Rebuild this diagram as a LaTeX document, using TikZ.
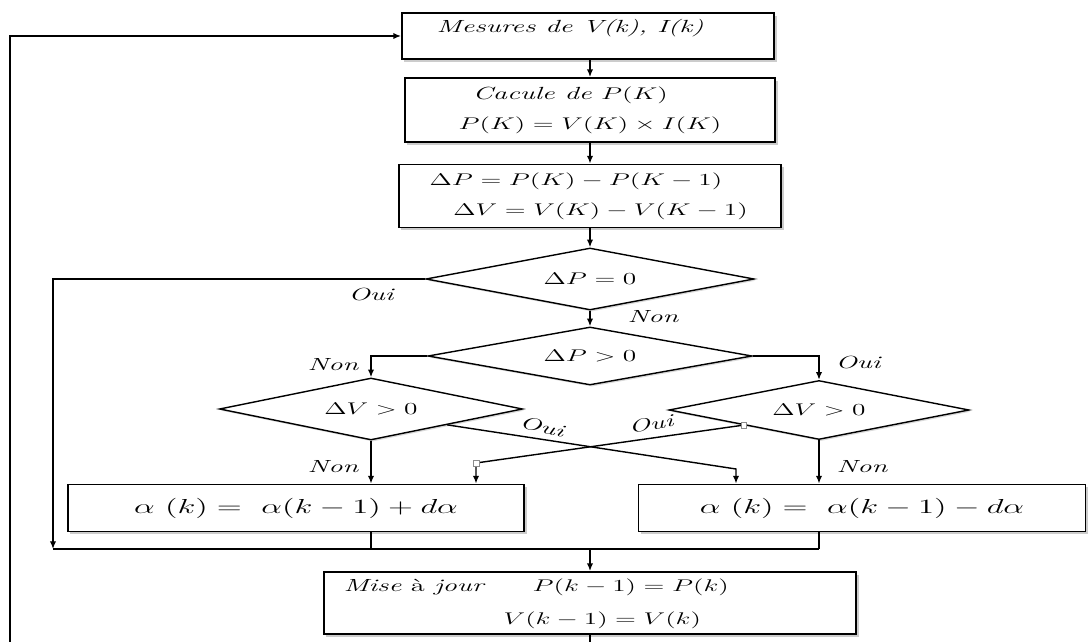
\documentclass[tikz,border=0pt]{standalone}
\usepackage{graphicx}
\usetikzlibrary{shapes.geometric,shadows,arrows.meta}
\newcommand{\wtxt}[1]{\scalebox{1.62}[1]{#1}}
\tikzset{
  box/.style={draw, rectangle, line width=1.3pt, fill=white, inner sep=0pt,
    drop shadow={shadow xshift=1.8pt, shadow yshift=-1.8pt, opacity=0.4},
    font=\fontsize{12.5}{14.5}\selectfont},
  bigbox/.style={box, font=\fontsize{15}{17}\selectfont},
  test/.style={draw, diamond, aspect=5, line width=1pt, fill=white, inner sep=0pt,
    drop shadow={shadow xshift=1.2pt, shadow yshift=-1.2pt, opacity=0.3},
    font=\fontsize{12.5}{14.5}\selectfont},
  txt/.style={inner sep=0pt, anchor=base west, font=\fontsize{12.5}{14.5}\selectfont},
  lbl/.style={inner sep=0pt, font=\fontsize{12.5}{14.5}\selectfont\itshape},
  handle/.style={draw=black!45, fill=white, rectangle, minimum size=4pt, inner sep=0pt, line width=0.4pt}
}
\begin{document}
\begin{tikzpicture}[x=0.025cm, y=-0.025cm, >={Latex[length=5.5pt,width=4.5pt]}, line width=1pt]
\useasboundingbox (0,0) rectangle (1088,642);
%main column
\node[box, minimum width=9.3cm, minimum height=1.15cm] (mes) at (588,36) {};
\node[txt] (mestxt) at (436,33) {\wtxt{\itshape Mesures de V(k), I(k)}};
\node[box, minimum width=9.25cm, minimum height=1.6cm, align=center] (calc) at (590,110)
  {\wtxt{\textit{Cacule de} $P(K)$}\hspace*{28pt}\\[7pt]\wtxt{$P(K)=V(K)\times I(K)$}};
\node[box, minimum width=9.55cm, minimum height=1.575cm, align=center] (delta) at (590,196)
  {\wtxt{$\Delta P=P(K)-P(K-1)$}\hspace*{20pt}\\[7pt]\hspace*{1.2em}\wtxt{$\Delta V=V(K)-V(K-1)$}};
%tests
\node[test, minimum width=8.2cm, minimum height=1.55cm] (dp0) at (590,279) {\wtxt{$\Delta P=0$}};
\node[test, minimum width=8.1cm, minimum height=1.45cm] (dpp) at (590,356) {\wtxt{$\Delta P>0$}};
\node[test, minimum width=7.575cm, minimum height=1.55cm] (dvl) at (371,409) {\wtxt{$\Delta V>0$}};
\node[test, minimum width=7.5cm, minimum height=1.475cm] (dvr) at (819,410) {\wtxt{$\Delta V>0$}};
%alpha
\node[bigbox, minimum width=11.4cm, minimum height=1.175cm] (incr) at (296,508)
  {\wtxt{$\alpha\ (k)=\ \alpha(k-1)+d\alpha$}};
\node[bigbox, minimum width=11.175cm, minimum height=1.175cm] (decr) at (862,508)
  {\wtxt{$\alpha\ (k)=\ \alpha(k-1)-d\alpha$}};
\node[box, minimum width=13.3cm, minimum height=1.55cm] (maj) at (590,603) {};
\node[txt] (majtxt) at (343,592) {\wtxt{\textit{Mise} à \textit{jour}}};
\node[txt] (majp) at (532,592) {\wtxt{$P(k-1)=P(k)$}};
\node[txt] (majv) at (503,625) {\wtxt{$V(k-1)=V(k)$}};
%labels
\node[lbl] (o1) at (371,295) {\wtxt{Oui}};
\node[lbl] (n1) at (653,317) {\wtxt{Non}};
\node[lbl] (n2) at (333,365) {\wtxt{Non}};
\node[lbl] (o2) at (858,363) {\wtxt{Oui}};
\node[lbl] (n3) at (333,467) {\wtxt{Non}};
\node[lbl] (n4) at (862,467) {\wtxt{Non}};
\node[lbl, rotate=-13] (o3) at (542,427) {\wtxt{Oui}};
\node[lbl, rotate=10] (o4) at (651,424) {\wtxt{Oui}};
%connectors
\coordinate (lp) at (53,549);
\coordinate (mg) at (590,549);
\coordinate (cr) at (736,469);
\coordinate (cl) at (476,463);
\draw [->] (mes.south -| calc.north) -- (calc.north);
\draw [->] (calc.south) -- (delta.north);
\draw [->] (delta.south) -- (dp0.north);
\draw [->] (dp0.south) -- (dpp.north);
\draw [->] (dp0.west) -| (lp);
\draw [->] (dpp.west) -| (dvl.north);
\draw [->] (dpp.east) -| (dvr.north);
\draw [->] (dvl.south) -- (dvl.south |- incr.north);
\draw [->] (dvr.south) -- (dvr.south |- decr.north);
\draw [->] (dvl.south east) -- (cr) -- (cr |- decr.north);
\draw [->] (dvr.south west) -- (cl) -- (cl |- incr.north);
\node[handle] (h1) at (dvr.south west) {};
\node[handle] (h2) at (cl) {};
\draw (dvl.south |- incr.south) -- (dvl.south |- mg);
\draw (dvr.south |- decr.south) -- (dvr.south |- mg);
\draw (lp) -- (dvr.south |- mg);
\draw [->] (mg) -- (maj.north);
\draw [->] (maj.south) |- (10,665) |- (mes.west);
\end{tikzpicture}
\end{document}
